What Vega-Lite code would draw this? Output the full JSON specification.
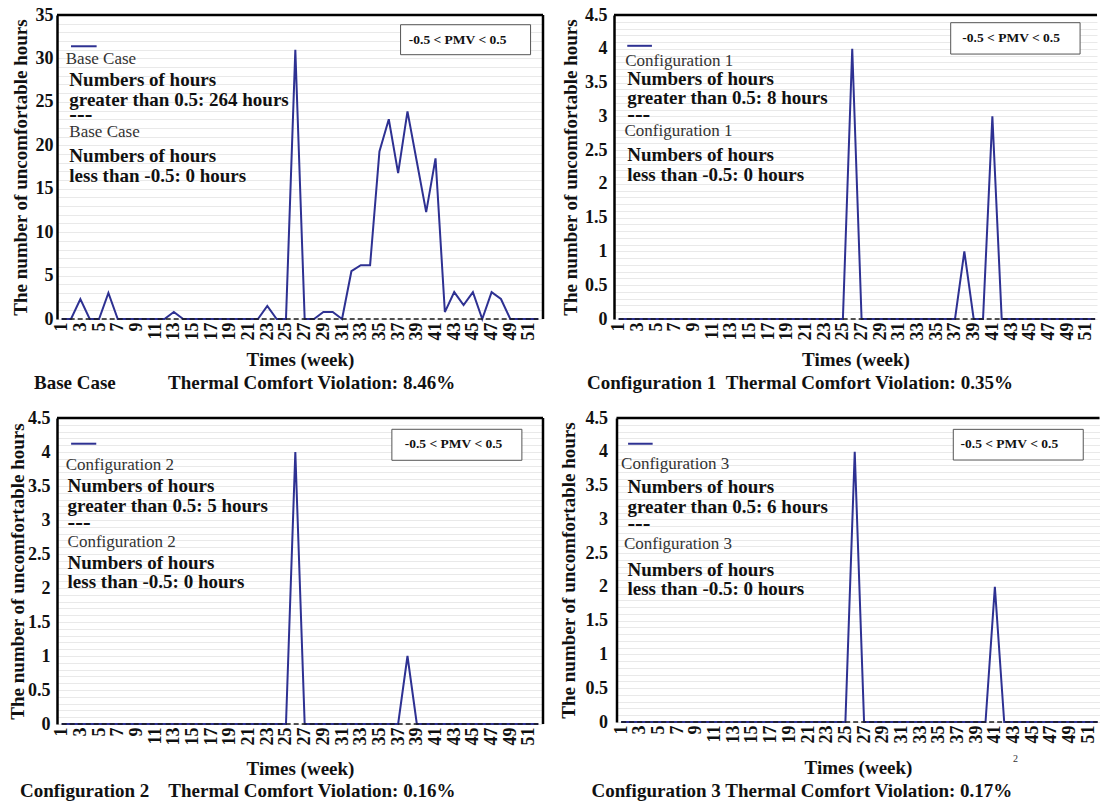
{
"$schema": "https://vega.github.io/schema/vega-lite/v6.json",
"background": "white",
"padding": {"left": 8, "top": 6, "right": 0, "bottom": 0},
"spacing": 16,
"datasets": {
"base": [
{"week":1,"above":0,"below":0},{"week":2,"above":0,"below":0},{"week":3,"above":2.3,"below":0},{"week":4,"above":0,"below":0},{"week":5,"above":0,"below":0},{"week":6,"above":3,"below":0},{"week":7,"above":0,"below":0},{"week":8,"above":0,"below":0},{"week":9,"above":0,"below":0},{"week":10,"above":0,"below":0},{"week":11,"above":0,"below":0},{"week":12,"above":0,"below":0},{"week":13,"above":0.8,"below":0},{"week":14,"above":0,"below":0},{"week":15,"above":0,"below":0},{"week":16,"above":0,"below":0},{"week":17,"above":0,"below":0},{"week":18,"above":0,"below":0},{"week":19,"above":0,"below":0},{"week":20,"above":0,"below":0},{"week":21,"above":0,"below":0},{"week":22,"above":0,"below":0},{"week":23,"above":1.5,"below":0},{"week":24,"above":0,"below":0},{"week":25,"above":0,"below":0},{"week":26,"above":31,"below":0},{"week":27,"above":0,"below":0},{"week":28,"above":0,"below":0},{"week":29,"above":0.8,"below":0},{"week":30,"above":0.8,"below":0},{"week":31,"above":0,"below":0},{"week":32,"above":5.5,"below":0},{"week":33,"above":6.2,"below":0},{"week":34,"above":6.2,"below":0},{"week":35,"above":19.3,"below":0},{"week":36,"above":23,"below":0},{"week":37,"above":16.8,"below":0},{"week":38,"above":23.9,"below":0},{"week":39,"above":18.1,"below":0},{"week":40,"above":12.3,"below":0},{"week":41,"above":18.5,"below":0},{"week":42,"above":0.8,"below":0},{"week":43,"above":3.1,"below":0},{"week":44,"above":1.6,"below":0},{"week":45,"above":3.1,"below":0},{"week":46,"above":0,"below":0},{"week":47,"above":3.1,"below":0},{"week":48,"above":2.3,"below":0},{"week":49,"above":0,"below":0},{"week":50,"above":0,"below":0},{"week":51,"above":0,"below":0},{"week":52,"above":0,"below":0}
],
"c1": [
{"week":1,"above":0,"below":0},{"week":2,"above":0,"below":0},{"week":3,"above":0,"below":0},{"week":4,"above":0,"below":0},{"week":5,"above":0,"below":0},{"week":6,"above":0,"below":0},{"week":7,"above":0,"below":0},{"week":8,"above":0,"below":0},{"week":9,"above":0,"below":0},{"week":10,"above":0,"below":0},{"week":11,"above":0,"below":0},{"week":12,"above":0,"below":0},{"week":13,"above":0,"below":0},{"week":14,"above":0,"below":0},{"week":15,"above":0,"below":0},{"week":16,"above":0,"below":0},{"week":17,"above":0,"below":0},{"week":18,"above":0,"below":0},{"week":19,"above":0,"below":0},{"week":20,"above":0,"below":0},{"week":21,"above":0,"below":0},{"week":22,"above":0,"below":0},{"week":23,"above":0,"below":0},{"week":24,"above":0,"below":0},{"week":25,"above":0,"below":0},{"week":26,"above":4,"below":0},{"week":27,"above":0,"below":0},{"week":28,"above":0,"below":0},{"week":29,"above":0,"below":0},{"week":30,"above":0,"below":0},{"week":31,"above":0,"below":0},{"week":32,"above":0,"below":0},{"week":33,"above":0,"below":0},{"week":34,"above":0,"below":0},{"week":35,"above":0,"below":0},{"week":36,"above":0,"below":0},{"week":37,"above":0,"below":0},{"week":38,"above":1,"below":0},{"week":39,"above":0,"below":0},{"week":40,"above":0,"below":0},{"week":41,"above":3,"below":0},{"week":42,"above":0,"below":0},{"week":43,"above":0,"below":0},{"week":44,"above":0,"below":0},{"week":45,"above":0,"below":0},{"week":46,"above":0,"below":0},{"week":47,"above":0,"below":0},{"week":48,"above":0,"below":0},{"week":49,"above":0,"below":0},{"week":50,"above":0,"below":0},{"week":51,"above":0,"below":0},{"week":52,"above":0,"below":0}
],
"c2": [
{"week":1,"above":0,"below":0},{"week":2,"above":0,"below":0},{"week":3,"above":0,"below":0},{"week":4,"above":0,"below":0},{"week":5,"above":0,"below":0},{"week":6,"above":0,"below":0},{"week":7,"above":0,"below":0},{"week":8,"above":0,"below":0},{"week":9,"above":0,"below":0},{"week":10,"above":0,"below":0},{"week":11,"above":0,"below":0},{"week":12,"above":0,"below":0},{"week":13,"above":0,"below":0},{"week":14,"above":0,"below":0},{"week":15,"above":0,"below":0},{"week":16,"above":0,"below":0},{"week":17,"above":0,"below":0},{"week":18,"above":0,"below":0},{"week":19,"above":0,"below":0},{"week":20,"above":0,"below":0},{"week":21,"above":0,"below":0},{"week":22,"above":0,"below":0},{"week":23,"above":0,"below":0},{"week":24,"above":0,"below":0},{"week":25,"above":0,"below":0},{"week":26,"above":4,"below":0},{"week":27,"above":0,"below":0},{"week":28,"above":0,"below":0},{"week":29,"above":0,"below":0},{"week":30,"above":0,"below":0},{"week":31,"above":0,"below":0},{"week":32,"above":0,"below":0},{"week":33,"above":0,"below":0},{"week":34,"above":0,"below":0},{"week":35,"above":0,"below":0},{"week":36,"above":0,"below":0},{"week":37,"above":0,"below":0},{"week":38,"above":1,"below":0},{"week":39,"above":0,"below":0},{"week":40,"above":0,"below":0},{"week":41,"above":0,"below":0},{"week":42,"above":0,"below":0},{"week":43,"above":0,"below":0},{"week":44,"above":0,"below":0},{"week":45,"above":0,"below":0},{"week":46,"above":0,"below":0},{"week":47,"above":0,"below":0},{"week":48,"above":0,"below":0},{"week":49,"above":0,"below":0},{"week":50,"above":0,"below":0},{"week":51,"above":0,"below":0},{"week":52,"above":0,"below":0}
],
"c3": [
{"week":1,"above":0,"below":0},{"week":2,"above":0,"below":0},{"week":3,"above":0,"below":0},{"week":4,"above":0,"below":0},{"week":5,"above":0,"below":0},{"week":6,"above":0,"below":0},{"week":7,"above":0,"below":0},{"week":8,"above":0,"below":0},{"week":9,"above":0,"below":0},{"week":10,"above":0,"below":0},{"week":11,"above":0,"below":0},{"week":12,"above":0,"below":0},{"week":13,"above":0,"below":0},{"week":14,"above":0,"below":0},{"week":15,"above":0,"below":0},{"week":16,"above":0,"below":0},{"week":17,"above":0,"below":0},{"week":18,"above":0,"below":0},{"week":19,"above":0,"below":0},{"week":20,"above":0,"below":0},{"week":21,"above":0,"below":0},{"week":22,"above":0,"below":0},{"week":23,"above":0,"below":0},{"week":24,"above":0,"below":0},{"week":25,"above":0,"below":0},{"week":26,"above":4,"below":0},{"week":27,"above":0,"below":0},{"week":28,"above":0,"below":0},{"week":29,"above":0,"below":0},{"week":30,"above":0,"below":0},{"week":31,"above":0,"below":0},{"week":32,"above":0,"below":0},{"week":33,"above":0,"below":0},{"week":34,"above":0,"below":0},{"week":35,"above":0,"below":0},{"week":36,"above":0,"below":0},{"week":37,"above":0,"below":0},{"week":38,"above":0,"below":0},{"week":39,"above":0,"below":0},{"week":40,"above":0,"below":0},{"week":41,"above":2,"below":0},{"week":42,"above":0,"below":0},{"week":43,"above":0,"below":0},{"week":44,"above":0,"below":0},{"week":45,"above":0,"below":0},{"week":46,"above":0,"below":0},{"week":47,"above":0,"below":0},{"week":48,"above":0,"below":0},{"week":49,"above":0,"below":0},{"week":50,"above":0,"below":0},{"week":51,"above":0,"below":0},{"week":52,"above":0,"below":0}
]
},
"vconcat": [
{"spacing": 16, "hconcat": [
{"width": 486, "height": 304,
"title": {"text": "Base Case\u00a0\u00a0\u00a0\u00a0\u00a0\u00a0\u00a0\u00a0\u00a0\u00a0\u00a0Thermal Comfort Violation: 8.46%", "orient": "bottom", "anchor": "start", "frame": "group", "dx": -23, "offset": 5},
"layer": [
{"data": {"name": "base"}, "mark": {"type": "line", "color": "#2E3192", "strokeWidth": 2},
 "encoding": {
  "x": {"field": "week", "type": "quantitative", "scale": {"domain": [0.5, 52.5], "nice": false, "zero": false},
   "axis": {"title": "Times (week)", "titleFontSize": 19, "titlePadding": 10, "labelFontSize": 18, "labelAngle": 270, "labelPadding": 3, "values": [1,3,5,7,9,11,13,15,17,19,21,23,25,27,29,31,33,35,37,39,41,43,45,47,49,51], "tickCount": 100, "format": "d", "grid": false, "domain": false, "ticks": false, "labelOverlap": false, "labelFlush": false, "labelBound": false}},
  "y": {"field": "above", "type": "quantitative", "scale": {"domain": [0, 35], "nice": false},
   "axis": {"title": "The number of uncomfortable hours", "titleFontSize": 19, "titlePadding": 5, "labelFontSize": 18, "labelPadding": 4, "minExtent": 22, "maxExtent": 22, "values": [0,1,2,3,4,5,6,7,8,9,10,11,12,13,14,15,16,17,18,19,20,21,22,23,24,25,26,27,28,29,30,31,32,33,34,35], "tickCount": 100, "format": "~g", "labelExpr": "datum.value % 5 === 0 ? datum.label : ''", "labelOverlap": false, "grid": true, "gridColor": "#e9e9e9", "gridWidth": 1, "ticks": false, "domainColor": "#000", "domainWidth": 2.5}}
 }},
{"data": {"name": "base"}, "mark": {"type": "line", "color": "#1a1a1a", "strokeWidth": 1.5, "strokeDash": [5, 3]},
 "encoding": {"x": {"field": "week", "type": "quantitative"}, "y": {"field": "below", "type": "quantitative"}}},
{"data": {"values": [{}]}, "mark": {"type": "rule", "color": "#2E3192", "strokeWidth": 2}, "encoding": {"x": {"datum": 2.0}, "x2": {"datum": 4.74}, "y": {"datum": 31.4}}},
{"data": {"values": [{}]}, "mark": {"type": "text", "align": "left", "baseline": "middle", "fontSize": 17, "color": "#333"}, "encoding": {"x": {"datum": 1.44}, "y": {"datum": 29.97}, "text": {"value": "Base Case"}}},
{"data": {"values": [{}]}, "mark": {"type": "text", "align": "left", "baseline": "middle", "fontSize": 19, "fontWeight": "bold", "lineHeight": 19.5, "color": "#111"}, "encoding": {"x": {"datum": 1.82}, "y": {"datum": 27.49}, "text": {"value": ["Numbers of hours", "greater than 0.5: 264 hours"]}}},
{"data": {"values": [{}]}, "mark": {"type": "text", "align": "left", "baseline": "middle", "fontSize": 23, "fontWeight": "bold", "color": "#111"}, "encoding": {"x": {"datum": 1.82}, "y": {"datum": 23.5}, "text": {"value": "---"}}},
{"data": {"values": [{}]}, "mark": {"type": "text", "align": "left", "baseline": "middle", "fontSize": 17, "color": "#333"}, "encoding": {"x": {"datum": 1.82}, "y": {"datum": 21.56}, "text": {"value": "Base Case"}}},
{"data": {"values": [{}]}, "mark": {"type": "text", "align": "left", "baseline": "middle", "fontSize": 19, "fontWeight": "bold", "lineHeight": 19.5, "color": "#111"}, "encoding": {"x": {"datum": 1.82}, "y": {"datum": 18.74}, "text": {"value": ["Numbers of hours", "less than -0.5: 0 hours"]}}},
{"data": {"values": [{}]}, "mark": {"type": "rect", "fill": "white", "stroke": "#555", "strokeWidth": 1}, "encoding": {"x": {"datum": 37.26}, "x2": {"datum": 51.17}, "y": {"datum": 33.88}, "y2": {"datum": 30.43}}},
{"data": {"values": [{}]}, "mark": {"type": "text", "align": "center", "baseline": "middle", "fontSize": 13.5, "fontWeight": "bold", "color": "#111"}, "encoding": {"x": {"datum": 43.36}, "y": {"datum": 32.16}, "text": {"value": "-0.5 < PMV < 0.5"}}},
{"data": {"values": [{}]}, "mark": {"type": "rule", "color": "#000", "strokeWidth": 2.5}, "encoding": {"y": {"datum": 35}}},
{"data": {"values": [{}]}, "mark": {"type": "rule", "color": "#000", "strokeWidth": 2.5}, "encoding": {"x": {"datum": 52.5}}}
]},
{"width": 483, "height": 304,
"title": {"text": "Configuration 1\u00a0\u00a0Thermal Comfort Violation: 0.35%", "orient": "bottom", "anchor": "start", "frame": "group", "dx": -27, "offset": 5},
"layer": [
{"data": {"name": "c1"}, "mark": {"type": "line", "color": "#2E3192", "strokeWidth": 2},
 "encoding": {
  "x": {"field": "week", "type": "quantitative", "scale": {"domain": [0.5, 52.2], "nice": false, "zero": false},
   "axis": {"title": "Times (week)", "titleFontSize": 19, "titlePadding": 10, "labelFontSize": 18, "labelAngle": 270, "labelPadding": 3, "values": [1,3,5,7,9,11,13,15,17,19,21,23,25,27,29,31,33,35,37,39,41,43,45,47,49,51], "tickCount": 100, "format": "d", "grid": false, "domain": false, "ticks": false, "labelOverlap": false, "labelFlush": false, "labelBound": false}},
  "y": {"field": "above", "type": "quantitative", "scale": {"domain": [0, 4.5], "nice": false},
   "axis": {"title": "The number of uncomfortable hours", "titleFontSize": 19, "titlePadding": 5, "labelFontSize": 18, "labelPadding": 7, "minExtent": 29, "maxExtent": 29, "values": [0,0.1,0.2,0.3,0.4,0.5,0.6,0.7,0.8,0.9,1,1.1,1.2,1.3,1.4,1.5,1.6,1.7,1.8,1.9,2,2.1,2.2,2.3,2.4,2.5,2.6,2.7,2.8,2.9,3,3.1,3.2,3.3,3.4,3.5,3.6,3.7,3.8,3.9,4,4.1,4.2,4.3,4.4,4.5], "tickCount": 100, "format": "~g", "labelExpr": "abs(datum.value * 2 - round(datum.value * 2)) < 0.01 ? datum.label : ''", "labelOverlap": false, "grid": true, "gridColor": "#e9e9e9", "gridWidth": 1, "ticks": false, "domainColor": "#000", "domainWidth": 2.5}}
 }},
{"data": {"name": "c1"}, "mark": {"type": "line", "color": "#1a1a1a", "strokeWidth": 1.5, "strokeDash": [5, 3]},
 "encoding": {"x": {"field": "week", "type": "quantitative"}, "y": {"field": "below", "type": "quantitative"}}},
{"data": {"values": [{}]}, "mark": {"type": "rule", "color": "#2E3192", "strokeWidth": 2}, "encoding": {"x": {"datum": 1.92}, "x2": {"datum": 4.56}, "y": {"datum": 4.044}}},
{"data": {"values": [{}]}, "mark": {"type": "text", "align": "left", "baseline": "middle", "fontSize": 17, "color": "#333"}, "encoding": {"x": {"datum": 1.7}, "y": {"datum": 3.819}, "text": {"value": "Configuration 1"}}},
{"data": {"values": [{}]}, "mark": {"type": "text", "align": "left", "baseline": "middle", "fontSize": 19, "fontWeight": "bold", "lineHeight": 19.5, "color": "#111"}, "encoding": {"x": {"datum": 1.92}, "y": {"datum": 3.56}, "text": {"value": ["Numbers of hours", "greater than 0.5: 8 hours"]}}},
{"data": {"values": [{}]}, "mark": {"type": "text", "align": "left", "baseline": "middle", "fontSize": 23, "fontWeight": "bold", "color": "#111"}, "encoding": {"x": {"datum": 1.92}, "y": {"datum": 3.019}, "text": {"value": "---"}}},
{"data": {"values": [{}]}, "mark": {"type": "text", "align": "left", "baseline": "middle", "fontSize": 17, "color": "#333"}, "encoding": {"x": {"datum": 1.62}, "y": {"datum": 2.783}, "text": {"value": "Configuration 1"}}},
{"data": {"values": [{}]}, "mark": {"type": "text", "align": "left", "baseline": "middle", "fontSize": 19, "fontWeight": "bold", "lineHeight": 19.5, "color": "#111"}, "encoding": {"x": {"datum": 1.92}, "y": {"datum": 2.427}, "text": {"value": ["Numbers of hours", "less than -0.5: 0 hours"]}}},
{"data": {"values": [{}]}, "mark": {"type": "rect", "fill": "white", "stroke": "#555", "strokeWidth": 1}, "encoding": {"x": {"datum": 36.54}, "x2": {"datum": 50.39}, "y": {"datum": 4.386}, "y2": {"datum": 3.922}}},
{"data": {"values": [{}]}, "mark": {"type": "text", "align": "center", "baseline": "middle", "fontSize": 13.5, "fontWeight": "bold", "color": "#111"}, "encoding": {"x": {"datum": 43.01}, "y": {"datum": 4.155}, "text": {"value": "-0.5 < PMV < 0.5"}}},
{"data": {"values": [{}]}, "mark": {"type": "rule", "color": "#000", "strokeWidth": 2.5}, "encoding": {"y": {"datum": 4.5}}}
]}
]},
{"spacing": 13.5, "hconcat": [
{"width": 486, "height": 306,
"title": {"text": "Configuration 2\u00a0\u00a0\u00a0\u00a0Thermal Comfort Violation: 0.16%", "orient": "bottom", "anchor": "start", "frame": "group", "dx": -37, "offset": 4},
"layer": [
{"data": {"name": "c2"}, "mark": {"type": "line", "color": "#2E3192", "strokeWidth": 2},
 "encoding": {
  "x": {"field": "week", "type": "quantitative", "scale": {"domain": [0.5, 52.5], "nice": false, "zero": false},
   "axis": {"title": "Times (week)", "titleFontSize": 19, "titlePadding": 14, "labelFontSize": 18, "labelAngle": 270, "labelPadding": 3, "values": [1,3,5,7,9,11,13,15,17,19,21,23,25,27,29,31,33,35,37,39,41,43,45,47,49,51], "tickCount": 100, "format": "d", "grid": false, "domain": false, "ticks": false, "labelOverlap": false, "labelFlush": false, "labelBound": false}},
  "y": {"field": "above", "type": "quantitative", "scale": {"domain": [0, 4.5], "nice": false},
   "axis": {"title": "The number of uncomfortable hours", "titleFontSize": 19, "titlePadding": 2.5, "labelFontSize": 18, "labelPadding": 7, "minExtent": 27, "maxExtent": 27, "values": [0,0.1,0.2,0.3,0.4,0.5,0.6,0.7,0.8,0.9,1,1.1,1.2,1.3,1.4,1.5,1.6,1.7,1.8,1.9,2,2.1,2.2,2.3,2.4,2.5,2.6,2.7,2.8,2.9,3,3.1,3.2,3.3,3.4,3.5,3.6,3.7,3.8,3.9,4,4.1,4.2,4.3,4.4,4.5], "tickCount": 100, "format": "~g", "labelExpr": "abs(datum.value * 2 - round(datum.value * 2)) < 0.01 ? datum.label : ''", "labelOverlap": false, "grid": true, "gridColor": "#e9e9e9", "gridWidth": 1, "ticks": false, "domainColor": "#000", "domainWidth": 2.5}}
 }},
{"data": {"name": "c2"}, "mark": {"type": "line", "color": "#1a1a1a", "strokeWidth": 1.5, "strokeDash": [5, 3]},
 "encoding": {"x": {"field": "week", "type": "quantitative"}, "y": {"field": "below", "type": "quantitative"}}},
{"data": {"values": [{}]}, "mark": {"type": "rule", "color": "#2E3192", "strokeWidth": 2}, "encoding": {"x": {"datum": 2.01}, "x2": {"datum": 4.7}, "y": {"datum": 4.122}}},
{"data": {"values": [{}]}, "mark": {"type": "text", "align": "left", "baseline": "middle", "fontSize": 17, "color": "#333"}, "encoding": {"x": {"datum": 1.44}, "y": {"datum": 3.809}, "text": {"value": "Configuration 2"}}},
{"data": {"values": [{}]}, "mark": {"type": "text", "align": "left", "baseline": "middle", "fontSize": 19, "fontWeight": "bold", "lineHeight": 19.5, "color": "#111"}, "encoding": {"x": {"datum": 1.63}, "y": {"datum": 3.5}, "text": {"value": ["Numbers of hours", "greater than 0.5: 5 hours"]}}},
{"data": {"values": [{}]}, "mark": {"type": "text", "align": "left", "baseline": "middle", "fontSize": 23, "fontWeight": "bold", "color": "#111"}, "encoding": {"x": {"datum": 1.63}, "y": {"datum": 2.956}, "text": {"value": "---"}}},
{"data": {"values": [{}]}, "mark": {"type": "text", "align": "left", "baseline": "middle", "fontSize": 17, "color": "#333"}, "encoding": {"x": {"datum": 1.63}, "y": {"datum": 2.676}, "text": {"value": "Configuration 2"}}},
{"data": {"values": [{}]}, "mark": {"type": "text", "align": "left", "baseline": "middle", "fontSize": 19, "fontWeight": "bold", "lineHeight": 19.5, "color": "#111"}, "encoding": {"x": {"datum": 1.63}, "y": {"datum": 2.375}, "text": {"value": ["Numbers of hours", "less than -0.5: 0 hours"]}}},
{"data": {"values": [{}]}, "mark": {"type": "rect", "fill": "white", "stroke": "#555", "strokeWidth": 1}, "encoding": {"x": {"datum": 36.33}, "x2": {"datum": 50.24}, "y": {"datum": 4.334}, "y2": {"datum": 3.878}}},
{"data": {"values": [{}]}, "mark": {"type": "text", "align": "center", "baseline": "middle", "fontSize": 13.5, "fontWeight": "bold", "color": "#111"}, "encoding": {"x": {"datum": 42.93}, "y": {"datum": 4.113}, "text": {"value": "-0.5 < PMV < 0.5"}}},
{"data": {"values": [{}]}, "mark": {"type": "rule", "color": "#000", "strokeWidth": 2.5}, "encoding": {"y": {"datum": 4.5}}},
{"data": {"values": [{}]}, "mark": {"type": "rule", "color": "#000", "strokeWidth": 2.5}, "encoding": {"x": {"datum": 52.5}}}
]},
{"width": 483, "height": 304,
"title": {"text": "Configuration 3 Thermal Comfort Violation: 0.17%", "orient": "bottom", "anchor": "start", "frame": "group", "dx": -25, "offset": 5},
"layer": [
{"data": {"name": "c3"}, "mark": {"type": "line", "color": "#2E3192", "strokeWidth": 2},
 "encoding": {
  "x": {"field": "week", "type": "quantitative", "scale": {"domain": [0.5, 52.2], "nice": false, "zero": false},
   "axis": {"title": "Times (week)", "titleFontSize": 19, "titlePadding": 15, "labelFontSize": 18, "labelAngle": 270, "labelPadding": 3, "values": [1,3,5,7,9,11,13,15,17,19,21,23,25,27,29,31,33,35,37,39,41,43,45,47,49,51], "tickCount": 100, "format": "d", "grid": false, "domain": false, "ticks": false, "labelOverlap": false, "labelFlush": false, "labelBound": false}},
  "y": {"field": "above", "type": "quantitative", "scale": {"domain": [0, 4.5], "nice": false},
   "axis": {"title": "The number of uncomfortable hours", "titleFontSize": 19, "titlePadding": 7, "labelFontSize": 18, "labelPadding": 9, "minExtent": 31.5, "maxExtent": 31.5, "values": [0,0.1,0.2,0.3,0.4,0.5,0.6,0.7,0.8,0.9,1,1.1,1.2,1.3,1.4,1.5,1.6,1.7,1.8,1.9,2,2.1,2.2,2.3,2.4,2.5,2.6,2.7,2.8,2.9,3,3.1,3.2,3.3,3.4,3.5,3.6,3.7,3.8,3.9,4,4.1,4.2,4.3,4.4,4.5], "tickCount": 100, "format": "~g", "labelExpr": "abs(datum.value * 2 - round(datum.value * 2)) < 0.01 ? datum.label : ''", "labelOverlap": false, "grid": true, "gridColor": "#e9e9e9", "gridWidth": 1, "ticks": false, "domainColor": "#000", "domainWidth": 2.5}}
 }},
{"data": {"name": "c3"}, "mark": {"type": "line", "color": "#1a1a1a", "strokeWidth": 1.5, "strokeDash": [5, 3]},
 "encoding": {"x": {"field": "week", "type": "quantitative"}, "y": {"field": "below", "type": "quantitative"}}},
{"data": {"values": [{}]}, "mark": {"type": "rule", "color": "#2E3192", "strokeWidth": 2}, "encoding": {"x": {"datum": 1.74}, "x2": {"datum": 4.37}, "y": {"datum": 4.119}}},
{"data": {"values": [{}]}, "mark": {"type": "text", "align": "left", "baseline": "middle", "fontSize": 17, "color": "#333"}, "encoding": {"x": {"datum": 0.99}, "y": {"datum": 3.826}, "text": {"value": "Configuration 3"}}},
{"data": {"values": [{}]}, "mark": {"type": "text", "align": "left", "baseline": "middle", "fontSize": 19, "fontWeight": "bold", "lineHeight": 19.5, "color": "#111"}, "encoding": {"x": {"datum": 1.67}, "y": {"datum": 3.478}, "text": {"value": ["Numbers of hours", "greater than 0.5: 6 hours"]}}},
{"data": {"values": [{}]}, "mark": {"type": "text", "align": "left", "baseline": "middle", "fontSize": 23, "fontWeight": "bold", "color": "#111"}, "encoding": {"x": {"datum": 1.67}, "y": {"datum": 2.931}, "text": {"value": "---"}}},
{"data": {"values": [{}]}, "mark": {"type": "text", "align": "left", "baseline": "middle", "fontSize": 17, "color": "#333"}, "encoding": {"x": {"datum": 1.29}, "y": {"datum": 2.642}, "text": {"value": "Configuration 3"}}},
{"data": {"values": [{}]}, "mark": {"type": "text", "align": "left", "baseline": "middle", "fontSize": 19, "fontWeight": "bold", "lineHeight": 19.5, "color": "#111"}, "encoding": {"x": {"datum": 1.67}, "y": {"datum": 2.257}, "text": {"value": ["Numbers of hours", "less than -0.5: 0 hours"]}}},
{"data": {"values": [{}]}, "mark": {"type": "rect", "fill": "white", "stroke": "#555", "strokeWidth": 1}, "encoding": {"x": {"datum": 36.55}, "x2": {"datum": 50.46}, "y": {"datum": 4.332}, "y2": {"datum": 3.878}}},
{"data": {"values": [{}]}, "mark": {"type": "text", "align": "center", "baseline": "middle", "fontSize": 13.5, "fontWeight": "bold", "color": "#111"}, "encoding": {"x": {"datum": 42.55}, "y": {"datum": 4.11}, "text": {"value": "-0.5 < PMV < 0.5"}}},
{"data": {"values": [{}]}, "mark": {"type": "text", "align": "center", "baseline": "middle", "fontSize": 10, "color": "#333"}, "encoding": {"x": {"datum": 43.2}, "y": {"datum": -0.548}, "text": {"value": "2"}}},
{"data": {"values": [{}]}, "mark": {"type": "rule", "color": "#000", "strokeWidth": 2.5}, "encoding": {"y": {"datum": 4.5}}}
]}
]}
],
"config": {
 "font": "Liberation Serif",
 "view": {"stroke": null},
 "axis": {"labelFont": "Liberation Serif", "titleFont": "Liberation Serif", "labelFontWeight": "bold", "titleFontWeight": "bold", "labelColor": "#111", "titleColor": "#111"},
 "axisX": {"labelAngle": 270, "labelOverlap": false, "labelFlush": false},
 "axisY": {"labelOverlap": false},
 "text": {"font": "Liberation Serif"},
 "title": {"font": "Liberation Serif", "fontWeight": "bold", "fontSize": 19, "color": "#111"}
}
}
